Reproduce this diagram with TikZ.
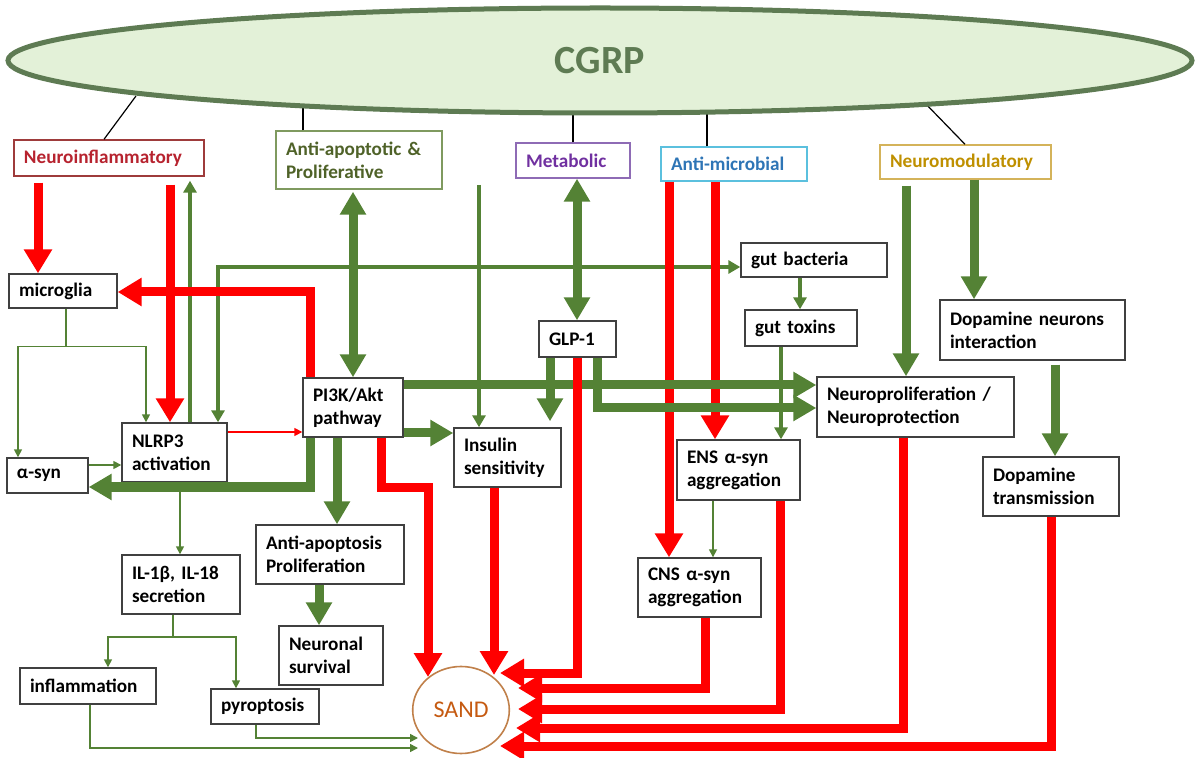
\documentclass[tikz,border=0pt]{standalone}
\usepackage{fontspec}
\setmainfont{Carlito}
\usetikzlibrary{arrows.meta,shapes.geometric}

\definecolor{arrgreen}{HTML}{548235}
\definecolor{arrred}{HTML}{FF0000}
\definecolor{cgrpline}{HTML}{5E7B53}
\definecolor{cgrpfill}{HTML}{E3F1D8}
\definecolor{sandline}{HTML}{C0804A}
\definecolor{sandtext}{HTML}{C55A11}
\definecolor{infltext}{HTML}{B7232F}
\definecolor{inflline}{HTML}{9E3B3B}
\definecolor{apoptext}{HTML}{4F6228}
\definecolor{apopline}{HTML}{7F9A5F}
\definecolor{metatext}{HTML}{7030A0}
\definecolor{metaline}{HTML}{8E6BB5}
\definecolor{microtext}{HTML}{2E75B6}
\definecolor{microline}{HTML}{5BC0DE}
\definecolor{modtext}{HTML}{BF9000}
\definecolor{modline}{HTML}{D4B35A}

\tikzset{
  box/.style={draw=black!75, line width=0.7pt, fill=white, align=left,
    inner xsep=5pt, inner ysep=2pt, font=\bfseries\fontsize{9.6}{11.5}\selectfont},
  catbox/.style 2 args={box, draw=#1, text=#2},
  catline/.style={draw=black, line width=0.6pt},
  redthick/.style={draw=arrred, line width=4.5pt, -{Triangle[length=12pt,width=13.5pt]}},
  greenthick/.style={draw=arrgreen, line width=4.5pt, -{Triangle[length=11.5pt,width=12.5pt]}},
  greenboth/.style={draw=arrgreen, line width=4.5pt,
    {Triangle[length=11.5pt,width=12.5pt]}-{Triangle[length=11.5pt,width=12.5pt]}},
  greenmid/.style={draw=arrgreen, line width=1.8pt, -{Triangle[length=6pt,width=6.5pt]}},
  greenmidboth/.style={draw=arrgreen, line width=1.8pt,
    {Triangle[length=6pt,width=6.5pt]}-{Triangle[length=6pt,width=6.5pt]}},
  greenthin/.style={draw=arrgreen, line width=0.8pt, -{Triangle[length=4pt,width=4pt]}},
  redthin/.style={draw=arrred, line width=0.8pt, -{Triangle[length=4pt,width=4pt]}},
}

\begin{document}
\begin{tikzpicture}[x=0.5pt,y=-0.5pt]
  \useasboundingbox (0,0) rectangle (1198,758);

  % categories
  \node[catbox={inflline}{infltext}, text width=85pt, minimum height=18pt] (neuroinf) at (109,158) {Neuroinflammatory};
  \node[catbox={apopline}{apoptext}, text width=73pt, minimum height=29pt] (antiapop) at (359,160) {Anti-apoptotic \&\\Proliferative};
  \node[catbox={metaline}{metatext}, text width=47pt, minimum height=17.5pt] (metab) at (573,160.5) {Metabolic};
  \node[catbox={microline}{microtext}, text width=63pt, minimum height=17pt] (antimicro) at (734,164) {Anti-microbial};
  \node[catbox={modline}{modtext}, text width=75.5pt, minimum height=17pt] (neuromod) at (965.5,162) {Neuromodulatory};

  % mechanisms
  \node[box, text width=44pt, minimum height=17pt] (microglia) at (63,291) {microglia};
  \node[box, text width=30.5pt, minimum height=17.5pt] (asyn) at (47.5,475.5) {α-syn};
  \node[box, text width=42.5pt, minimum height=29.5pt] (nlrp) at (174.5,452.5) {NLRP3\\activation};
  \node[box, text width=40pt, minimum height=29.5pt] (pik) at (353,407.5) {PI3K/Akt\\pathway};
  \node[box, text width=43.5pt, minimum height=29.5pt] (insulin) at (507.5,457.5) {Insulin\\sensitivity};
  \node[box, text width=28.5pt, minimum height=18pt] (glp) at (577.5,339) {GLP-1};
  \node[box, text width=63pt, minimum height=17pt] (bacteria) at (814,260) {gut bacteria};
  \node[box, text width=46pt, minimum height=18pt] (toxins) at (801,328) {gut toxins};
  \node[box, text width=88.5pt, minimum height=30pt] (neuroprot) at (915.5,407) {Neuroproliferation /\\Neuroprotection};
  \node[box, text width=82.5pt, minimum height=30pt] (dapint) at (1032.5,330) {Dopamine neurons\\interaction};
  \node[box, text width=58pt, minimum height=29.5pt] (daptrans) at (1051,486.5) {Dopamine\\transmission};
  \node[box, text width=51.5pt, minimum height=30pt] (ens) at (738.5,470) {ENS α-syn\\aggregation};
  \node[box, text width=51.5pt, minimum height=29.5pt] (cns) at (699.5,587.5) {CNS α-syn\\aggregation};
  \node[box, text width=49pt, minimum height=29.5pt] (il) at (181,584.5) {IL-1β, IL-18\\secretion};
  \node[box, text width=64pt, minimum height=29.5pt] (apoprol) at (330,554.5) {Anti-apoptosis\\Proliferation};
  \node[box, text width=42pt, minimum height=29.5pt] (survival) at (331,655.5) {Neuronal\\survival};
  \node[box, text width=58pt, minimum height=18pt] (inflam) at (88,686) {inflammation};
  \node[box, text width=44pt, minimum height=17.5pt] (pyro) at (265,706.5) {pyroptosis};
  \node[ellipse, draw=sandline, line width=0.8pt, minimum width=47.5pt, minimum height=43.5pt,
    text=sandtext, font=\fontsize{12}{14}\selectfont] (sand) at (461,710) {SAND};

  % thin green links
  \draw[greenthin, -] (microglia.south -| 66,0) -- ++(0,38) coordinate (msplit);
  \draw[greenthin] (msplit) -| (asyn.north -| 18,0);
  \draw[greenthin] (msplit) -| (nlrp.north -| 146,0);
  \draw[greenthin] (asyn.east |- 0,465) -- (nlrp.west |- 0,465);
  \draw[greenthin] (nlrp.south -| 180,0) -- (il.north -| 180,0);
  \draw[greenthin, -] (il.south -| 173,0) -- ++(0,22) coordinate (isplit);
  \draw[greenthin] (isplit) -| (inflam.north -| 108,0);
  \draw[greenthin] (isplit) -| (pyro.north -| 236,0);
  \draw[greenthin] (inflam.south -| 90,0) |- ([shift={(-43,38)}]sand.center);
  \draw[greenthin] (pyro.south -| 256,0) |- ([shift={(-43,28)}]sand.center);
  \draw[greenthin] (ens.south -| 713,0) -- (cns.north -| 713,0);
  \draw[redthin] (nlrp.east |- 0,432) -- (pik.west |- 0,432);

  % medium green links
  \draw[greenmid, shorten >=2pt] (nlrp.north -| 190,0) -- (neuroinf.south -| 190,0);
  \draw[greenmidboth] (nlrp.north -| 218,0) |- (bacteria.west |- 0,267);
  \coordinate (insfrom) at (479,185);
  \draw[greenmid] (insfrom) -- (insulin.north -| 479,0);
  \draw[greenmid] (bacteria.south -| 800,0) -- (toxins.north -| 800,0);
  \draw[greenmid] (toxins.south -| 781,0) -- (ens.north -| 781,0);

  % thick red links
  \draw[redthick, shorten <=3pt] (neuroinf.south -| 38,0) -- (microglia.north -| 38,0);
  \draw[redthick, shorten <=4pt] (neuroinf.south -| 170,0) -- (nlrp.north -| 170,0);
  \draw[redthick] (pik.north -| 310,0) |- (microglia.east |- 0,292);
  \draw[redthick] (antimicro.south -| 669,0) -- (cns.north -| 669,0);
  \draw[redthick] (antimicro.south -| 715,0) -- (ens.north -| 715,0);

  % thick green links
  \draw[greenthick] (pik.south -| 310,0) |- (asyn.east |- 0,487);
  \draw[greenboth, shorten <=1pt] (antiapop.south -| 353,0) -- (pik.north -| 353,0);
  \draw[greenboth] (metab.south -| 577,0) -- (glp.north -| 577,0);
  \draw[greenthick, shorten >=3pt] (glp.south -| 550,0) -- (insulin.north -| 550,0);
  \draw[greenthick] (glp.south -| 597,0) |- (neuroprot.west |- 0,408);
  \draw[greenthick] (pik.east |- 0,385) -- (neuroprot.west |- 0,385);
  \draw[greenthick] (pik.east |- 0,433) -- (insulin.west |- 0,433);
  \draw[greenthick] (pik.south -| 337,0) -- (apoprol.north -| 337,0);
  \draw[greenthick] (apoprol.south -| 319,0) -- (survival.north -| 319,0);
  \draw[greenthick, shorten <=3pt] (neuromod.south -| 906,0) -- (neuroprot.north -| 906,0);
  \draw[greenthick] (neuromod.south -| 974,0) -- (dapint.north -| 974,0);
  \draw[greenthick, shorten <=2pt] (dapint.south -| 1055,0) -- (daptrans.north -| 1055,0);

  % red links into SAND
  \draw[redthick] (pik.south -| 381,0) -- ++(0,50) -| ([shift={(-33,-33)}]sand.center);
  \draw[redthick] (insulin.south -| 494,0) -- ([shift={(33,-35)}]sand.center);
  \draw[redthick] (glp.south -| 577,0) |- ([shift={(39,-37)}]sand.center);
  \draw[redthick] (cns.south -| 705,0) |- ([shift={(57,-22)}]sand.center);
  \draw[redthick] (ens.south -| 780,0) |- ([shift={(57,-1)}]sand.center);
  \draw[redthick] (neuroprot.south -| 903,0) |- ([shift={(55,18)}]sand.center);
  \draw[redthick] (daptrans.south -| 1051,0) |- ([shift={(39,36)}]sand.center);

  % CGRP and its branches
  \coordinate (cg1) at (136,96);
  \coordinate (cg2) at (303,100);
  \coordinate (cg3) at (573,105);
  \coordinate (cg4) at (707,105);
  \coordinate (cg5) at (922,100);
  \draw[catline] (neuroinf.north -| 104,0) -- (cg1);
  \draw[catline] (antiapop.north -| 303,0) -- (cg2);
  \draw[catline] (metab.north -| 573,0) -- (cg3);
  \draw[catline] (antimicro.north -| 707,0) -- (cg4);
  \draw[catline] (neuromod.north -| 965,0) -- (cg5);
  \node[ellipse, draw=cgrpline, line width=2.5pt, fill=cgrpfill, minimum width=592pt,
    minimum height=52.5pt, inner sep=0pt, text=cgrpline,
    font=\bfseries\fontsize{20}{24}\selectfont] (cgrp) at (600,60.5) {CGRP};
\end{tikzpicture}
\end{document}
